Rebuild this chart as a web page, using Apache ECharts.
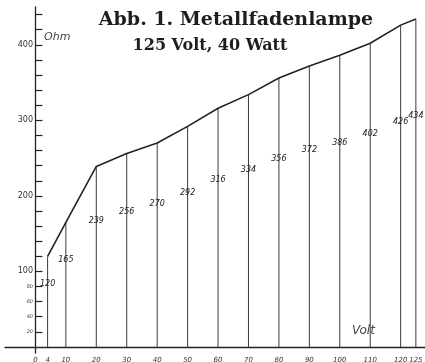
<!DOCTYPE html>
<html>
<head>
<meta charset="utf-8">
<script src="https://cdn.jsdelivr.net/npm/echarts@6/dist/echarts.min.js"></script>
<style>
  html, body { margin: 0; padding: 0; background: #fff; }
  #chart { width: 425px; height: 362px; }
</style>
</head>
<body>
<div id="chart"></div>
<script>
// Abb. 1 – resistance of a metal filament lamp vs. voltage
const volts = [4, 10, 20, 30, 40, 50, 60, 70, 80, 90, 100, 110, 120, 125];
const ohms = [120, 165, 239, 256, 270, 292, 316, 334, 356, 372, 386, 402, 426, 434];
const voltTicks = [0, 4, 10, 20, 30, 40, 50, 60, 70, 80, 90, 100, 110, 120, 125];
const ohmTicks = [20, 40, 60, 80, 100, 120, 140, 160, 180, 200, 220, 240, 260, 280, 300,
  320, 340, 360, 380, 400, 420, 440];
const ohmLabels = [20, 40, 60, 80, 100, 200, 300, 400];

const ink = "#232323";
const points = volts.map((v, i) => [v, ohms[i]]);

const chart = echarts.init(document.getElementById("chart"));

chart.setOption({
  backgroundColor: "#fff",
  animation: false,
  graphic: [
    {
      type: "text",
      x: 236,
      y: 20,
      style: {
        text: "Abb. 1. Metallfadenlampe",
        font: "bold 19px 'DejaVu Serif'",
        fill: "#1e1e1e",
        align: "center",
        verticalAlign: "middle",
      },
    },
    {
      type: "text",
      x: 210,
      y: 46,
      style: {
        text: "125 Volt, 40 Watt",
        font: "bold 16px 'DejaVu Serif'",
        fill: "#1e1e1e",
        align: "center",
        verticalAlign: "middle",
      },
    },
    {
      type: "text",
      left: 44,
      top: 32,
      style: { text: "Ohm", font: "italic 11px 'DejaVu Sans'", fill: "#444" },
    },
    {
      type: "text",
      left: 352,
      top: 325,
      style: { text: "Volt", font: "italic 12px 'DejaVu Sans'", fill: "#444" },
    },
  ],
  grid: { left: 5, right: 0, top: 7, bottom: 9, outerBoundsMode: "none" },
  xAxis: {
    type: "value",
    min: -10,
    max: 128,
    axisLine: { onZero: true, lineStyle: { color: ink, width: 1.3 } },
    axisTick: { show: false },
    splitLine: { show: false },
    axisLabel: {
      customValues: voltTicks,
      margin: 4,
      color: "#333",
      fontSize: 7,
      fontStyle: "italic",
      fontFamily: "DejaVu Sans",
    },
  },
  yAxis: {
    type: "value",
    min: -8,
    max: 450,
    axisLine: { show: true, onZero: true, lineStyle: { color: ink, width: 1.3 } },
    axisTick: {
      show: true,
      inside: true,
      length: 7,
      customValues: ohmTicks,
      lineStyle: { color: ink, width: 1.2 },
    },
    splitLine: { show: false },
    axisLabel: {
      customValues: ohmLabels,
      // labels sit at the grid edge, pull them over to the zero line
      margin: -28,
      color: "#333",
      fontFamily: "DejaVu Sans",
      formatter: (v) => (v < 100 ? "{s|" + v + "}" : "{b|" + v + "}"),
      rich: {
        s: { fontSize: 5, fontStyle: "italic", color: "#444" },
        b: { fontSize: 8, color: "#333" },
      },
    },
  },
  series: [
    {
      // vertical drop lines with the handwritten readings
      type: "custom",
      data: points,
      renderItem: (params, api) => {
        const v = api.value(0);
        const r = api.value(1);
        const top = api.coord([v, r]);
        const base = api.coord([v, 0]);
        const h = base[1] - top[1];
        const off = Math.min(97, h * 0.3);
        return {
          type: "group",
          children: [
            {
              type: "line",
              shape: { x1: top[0], y1: top[1], x2: base[0], y2: base[1] },
              style: { stroke: "#3a3a3a", lineWidth: 1 },
            },
            {
              type: "text",
              x: top[0],
              y: top[1] + off,
              style: {
                text: String(r),
                align: "center",
                verticalAlign: "middle",
                font: "italic 8px 'DejaVu Sans'",
                fill: "#222",
              },
            },
          ],
        };
      },
    },
    {
      type: "line",
      data: points,
      showSymbol: false,
      lineStyle: { color: ink, width: 1.6 },
      z: 3,
    },
  ],
});
</script>
</body>
</html>
